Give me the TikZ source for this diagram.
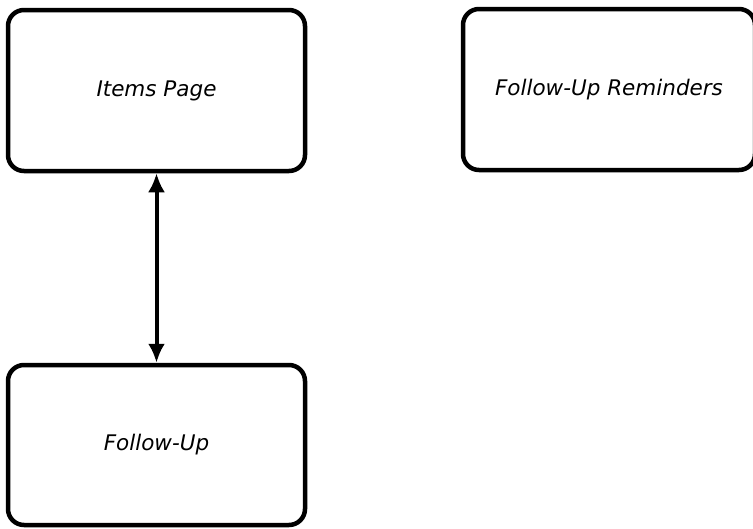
\documentclass[tikz,border=0pt]{standalone}
\usepackage{fontspec}
\setmainfont{DejaVu Sans}
\usetikzlibrary{arrows.meta}
\tikzset{
  pagebox/.style={draw,line width=4.5pt,rounded corners=16pt,
    minimum width=297pt,minimum height=161pt,inner sep=0pt,
    font=\fontsize{21.5}{25}\selectfont\itshape},
  link/.style={{Latex[length=19pt,width=17pt]}-{Latex[length=19pt,width=17pt]},line width=4pt}
}
\begin{document}
\begin{tikzpicture}[x=1pt,y=-1pt]
\useasboundingbox (0,0) rectangle (753,528);
% three screens, the reminders screen runs off the right edge
\node[pagebox] (items) at (156.5,90.5) {Items Page};
\node[pagebox,minimum width=292pt] (reminders) at (609,89.5) {Follow-Up Reminders};
\node[pagebox,minimum height=160pt] (followup) at (156.5,445) {Follow-Up};
% items and follow-up link both ways
\draw[link] (items.south) -- (followup.north);
\end{tikzpicture}
\end{document}
